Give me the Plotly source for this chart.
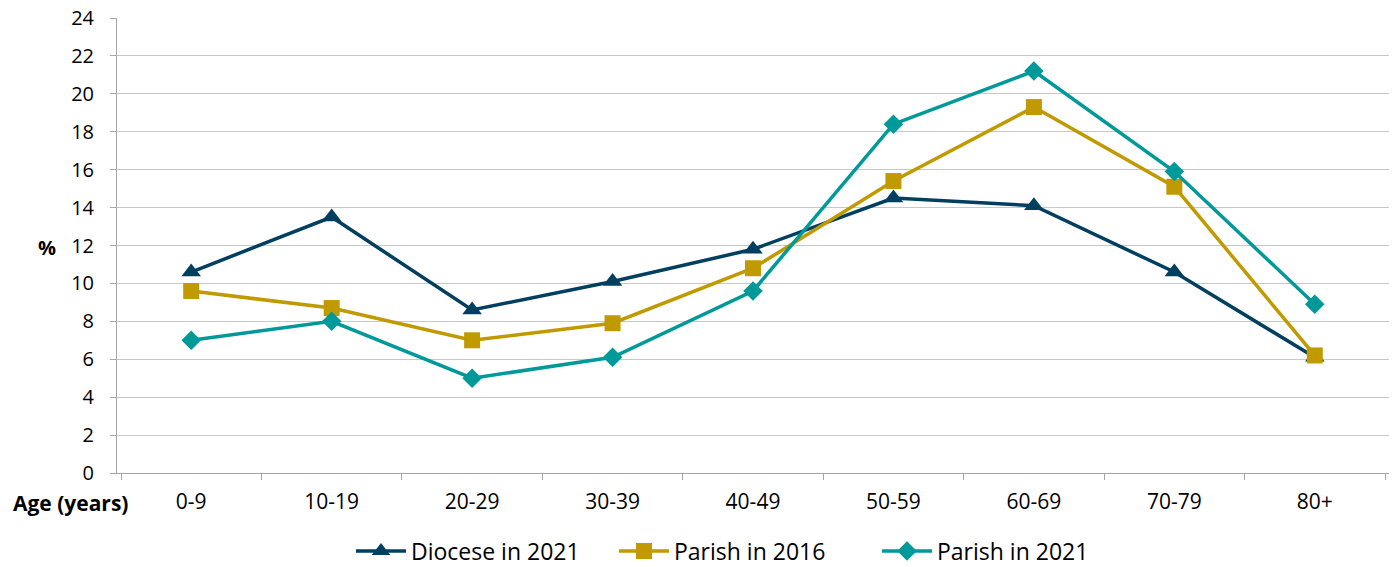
import plotly.graph_objects as go

categories = ["0-9", "10-19", "20-29", "30-39", "40-49", "50-59", "60-69", "70-79", "80+"]
diocese_2021 = [10.6, 13.5, 8.6, 10.1, 11.8, 14.5, 14.1, 10.6, 6.1]
parish_2016 = [9.6, 8.7, 7.0, 7.9, 10.8, 15.4, 19.3, 15.1, 6.2]
parish_2021 = [7.0, 8.0, 5.0, 6.1, 9.6, 18.4, 21.2, 15.9, 8.9]

FONT = "Open Sans"
W, H = 1395, 567
L, R, T, B = 117, 6, 18, 94

fig = go.Figure()
series = [
    ("Diocese in 2021", diocese_2021, "#003F5F", "triangle-up", 17),
    ("Parish in 2016", parish_2016, "#C09A00", "square", 16),
    ("Parish in 2021", parish_2021, "#00999A", "diamond", 15),
]
for name, vals, col, sym, sz in series:
    fig.add_trace(go.Scatter(
        x=categories, y=vals, name=name, mode="lines+markers",
        line=dict(color=col, width=3.5),
        marker=dict(symbol=sym, size=sz, color=col),
    ))

pw = W - L - R
ph = H - T - B

fig.update_layout(
    width=W, height=H,
    margin=dict(l=L, r=R, t=T, b=B, autoexpand=False),
    plot_bgcolor="white", paper_bgcolor="white",
    font=dict(family=FONT, size=18, color="#000000"),
    showlegend=True,
    legend=dict(orientation="h", x=351 / W, xanchor="left", xref="container",
                y=(H - 551) / H, yanchor="middle", yref="container",
                font=dict(size=23), itemwidth=50, tracegroupgap=0,
                entrywidth=198, entrywidthmode="pixels",
                bgcolor="rgba(0,0,0,0)"),
    xaxis=dict(
        type="category", showline=True, linecolor="#A6A6A6", linewidth=1,
        ticks="outside", ticklen=6, tickcolor="#A6A6A6", tickson="boundaries",
        showgrid=False, tickfont=dict(size=21), ticklabelstandoff=10,
        automargin=False,
    ),
    yaxis=dict(
        range=[0, 24], dtick=2, showline=True, linecolor="#A6A6A6", linewidth=1,
        ticks="outside", ticklen=6, tickcolor="#A6A6A6",
        showgrid=True, gridcolor="#C8C8C8", gridwidth=1, zeroline=False,
        tickfont=dict(size=20), ticklabelstandoff=12, automargin=False,
    ),
    annotations=[
        dict(text="<b>Age (years)</b>", x=(70 - L) / pw, y=(473 - 503) / ph,
             xref="paper", yref="paper",
             showarrow=False, font=dict(size=21), xanchor="center", yanchor="middle"),
        dict(text="<b>%</b>", x=(47 - L) / pw, y=(473 - 247) / ph,
             xref="paper", yref="paper",
             showarrow=False, font=dict(size=20), xanchor="center", yanchor="middle"),
    ],
)

fig.write_html("out.html", config={"displayModeBar": False})

# remove the browser's default page margin so the figure sits at the top-left corner
with open("out.html", "r", encoding="utf-8") as f:
    html = f.read()
html = html.replace("<head>", "<head><style>html,body{margin:0;padding:0;}</style>", 1)
with open("out.html", "w", encoding="utf-8") as f:
    f.write(html)
